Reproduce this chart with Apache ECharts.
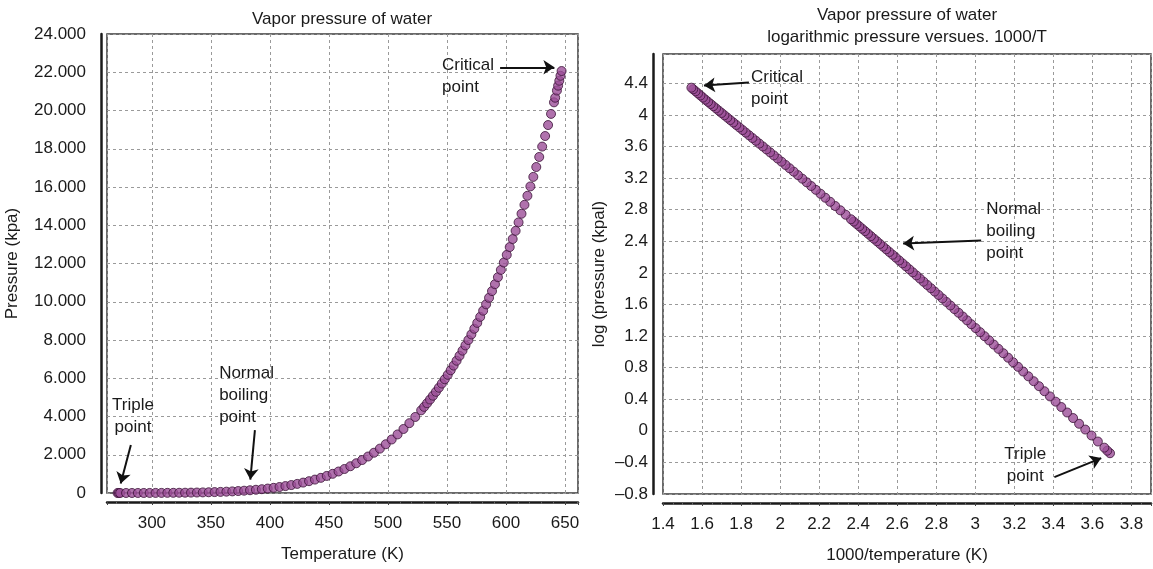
<!DOCTYPE html>
<html>
<head>
<meta charset="utf-8">
<script src="https://cdn.jsdelivr.net/npm/echarts@6.0.0/dist/echarts.min.js"></script>
<style>
html,body{margin:0;padding:0;background:#fff;}
#chart{width:1153px;height:569px;}
</style>
</head>
<body>
<div id="chart"></div>
<script>
// ---------------- DATA ----------------
// Left panel: [temperature K, pressure kPa]
const leftPoints = [
 [271.0,0.52],[272.0,0.56],[273.16,0.6117],[278.15,0.8725],[283.15,1.2282],[288.15,1.7057],
 [293.15,2.3392],[298.15,3.1698],[303.15,4.2467],[308.15,5.6291],[313.15,7.3851],[318.15,9.5953],
 [323.15,12.352],[328.15,15.763],[333.15,19.947],[338.15,25.043],[343.15,31.202],[348.15,38.597],
 [353.15,47.416],[358.15,57.868],[363.15,70.183],[368.15,84.609],[373.15,101.42],[378.15,120.90],
 [383.15,143.38],[388.15,169.18],[393.15,198.67],[398.15,232.23],[403.15,270.28],[408.15,313.22],
 [413.15,361.53],[418.15,415.68],[423.15,476.16],[428.15,543.49],[433.15,618.23],[438.15,700.93],
 [443.15,792.18],[448.15,892.60],[453.15,1002.8],[458.15,1123.5],[463.15,1255.2],[468.15,1398.8],
 [473.15,1554.9],[478.15,1724.3],[483.15,1907.7],[488.15,2105.9],[493.15,2319.6],[498.15,2549.7],
 [503.15,2797.1],[508.15,3062.5],[513.15,3347.0],[518.15,3651.2],[523.15,3976.2],[528.15,4322.9],
 [530.65,4504],[533.15,4692.3],[535.65,4886],[538.15,5085.3],[540.65,5291],[543.15,5503.0],
 [545.65,5722],[548.15,5946.4],[550.65,6178],[553.15,6416.6],[555.65,6662],[558.15,6914.6],
 [560.65,7175],[563.15,7441.8],[565.65,7716],[568.15,7999.0],[570.65,8290],[573.15,8587.9],
 [575.65,8894],[578.15,9209.4],[580.65,9533],[583.15,9865.1],[585.65,10207],[588.15,10556],
 [590.65,10916],[593.15,11284],[595.65,11664],[598.15,12051],[600.65,12451],[603.15,12858],
 [605.65,13279],[608.15,13707],[610.65,14150],[613.15,14601],[615.65,15067],[618.15,15541],
 [620.65,16031],[623.15,16529],[625.65,17045],[628.15,17570],[630.65,18113],[633.15,18666],
 [635.65,19239],[638.15,19822],[640.65,20427],[641.65,20668],[643.15,21044],[644.15,21298],
 [645.15,21554],[646.15,21814],[647.10,22064]
];
// Right panel: [1000/T, log10(P kPa)]
const rightPoints = [
 [3.690,-0.284],[3.676,-0.252],[3.6609,-0.2135],[3.6278,-0.1356],[3.5952,-0.0592],[3.5632,0.0161],
 [3.5317,0.0893],[3.5008,0.1614],[3.4704,0.2319],[3.4405,0.3010],[3.4112,0.3691],[3.3823,0.4356],
 [3.3540,0.5011],[3.3261,0.5650],[3.2987,0.6281],[3.2717,0.6897],[3.2452,0.7504],[3.2191,0.8097],
 [3.1934,0.8684],[3.1681,0.9255],[3.1432,0.9821],[3.1187,1.0372],[3.0945,1.0917],[3.0708,1.1449],
 [3.0474,1.1976],[3.0244,1.2490],[3.0017,1.2999],[2.9793,1.3496],[2.9573,1.3987],[2.9356,1.4467],
 [2.9142,1.4942],[2.8931,1.5406],[2.8723,1.5865],[2.8519,1.6314],[2.8317,1.6759],[2.8118,1.7194],
 [2.7921,1.7624],[2.7728,1.8045],[2.7537,1.8462],[2.7349,1.8870],[2.7163,1.9274],[2.6980,1.9669],
 [2.6799,2.0061],[2.6621,2.0445],[2.6445,2.0824],[2.6271,2.1197],[2.6099,2.1565],[2.5930,2.1926],
 [2.5763,2.2283],[2.5599,2.2634],[2.5436,2.2981],[2.5275,2.3322],[2.5116,2.3659],[2.4960,2.3990],
 [2.4805,2.4318],[2.4652,2.4640],[2.4501,2.4958],[2.4352,2.5272],[2.4204,2.5582],[2.4059,2.5887],
 [2.3915,2.6188],[2.3773,2.6485],[2.3632,2.6778],[2.3356,2.7352],[2.3087,2.7911],[2.2823,2.8457],
 [2.2566,2.8988],[2.2314,2.9506],[2.2068,3.0012],[2.1827,3.0506],[2.1591,3.0987],[2.1361,3.1458],
 [2.1135,3.1917],[2.0914,3.2366],[2.0697,3.2805],[2.0486,3.3234],[2.0278,3.3654],[2.0074,3.4065],
 [1.9875,3.4467],[1.9679,3.4861],[1.9487,3.5247],[1.9300,3.5625],[1.9115,3.5995],[1.8934,3.6358],
 [1.8757,3.6714],[1.8582,3.7063],[1.8411,3.7406],[1.8243,3.7742],[1.8078,3.8073],[1.7916,3.8398],
 [1.7757,3.8717],[1.7601,3.9030],[1.7447,3.9339],[1.7297,3.9642],[1.7148,3.9941],[1.7003,4.0235],
 [1.6859,4.0525],[1.6718,4.0810],[1.6580,4.1092],[1.6443,4.1370],[1.6309,4.1644],[1.6177,4.1915],
 [1.6047,4.2182],[1.5920,4.2448],[1.5794,4.2710],[1.5670,4.2972],[1.5548,4.3231],[1.5454,4.3437]
];
// Titles / axis names
const leftTitle = 'Vapor pressure of water';
const rightTitle = 'Vapor pressure of water\nlogarithmic pressure versues. 1000/T';
const leftXName = 'Temperature (K)';
const leftYName = 'Pressure (kpa)';
const rightXName = '1000/temperature (K)';
const rightYName = 'log (pressure (kpal)';
// Annotations: [text, x, y, align]  and arrows: [x1, y1, x2, y2]
const leftLabels = [
 ['Critical\npoint', 545.8, 21800, 'left'],
 ['Triple\npoint', 284, 4030, 'center'],
 ['Normal\nboiling\npoint', 357, 5124, 'left']
];
const leftArrows = [
 [595, 22260, 641, 22260],
 [282.2, 2510, 273.6, 500],
 [387.3, 3290, 383.4, 700]
];
const rightLabels = [
 ['Critical\npoint', 1.851, 4.337, 'left'],
 ['Normal\nboiling\npoint', 3.056, 2.53, 'left'],
 ['Triple\npoint', 3.256, -0.435, 'center']
];
const rightArrows = [
 [1.84, 4.41, 1.61, 4.37],
 [3.03, 2.41, 2.63, 2.37],
 [3.405, -0.587, 3.645, -0.345]
];

// ---------------- CHART ----------------
const FONT = '"Liberation Sans", Arial, Helvetica, sans-serif';
const TXT = '#1a1a1a';
const chart = echarts.init(document.getElementById('chart'), null, {renderer: 'canvas'});

function splitLine(){ return {show:true, lineStyle:{type:[3,3], color:'#9a9a9a', width:1}}; }
function markPts(labels){
  return {
    silent:true, symbol:'circle', symbolSize:0, animation:false,
    data: labels.map(l => ({
      coord:[l[1], l[2]], value: l[0],
      label:{show:true, formatter:l[0], position: l[3]==='left' ? 'right' : 'inside', distance:0,
        align: l[3], fontSize:17, lineHeight:22, color:TXT, fontFamily:FONT}
    }))
  };
}
function markArrows(arrows){
  return {
    silent:true, animation:false, symbol:['none','arrow'], symbolSize:11,
    label:{show:false},
    lineStyle:{color:'#111', width:2, type:'solid'},
    itemStyle:{color:'#111'},
    emphasis:{disabled:true},
    data: arrows.map(a => [{coord:[a[0],a[1]]},{coord:[a[2],a[3]]}])
  };
}
const markerStyle = {color:'#9c4f98', borderColor:'#3a1236', borderWidth:1};

const option = {
  animation:false,
  textStyle:{fontFamily:FONT},
  title:[
    {text:leftTitle, left:342, top:8, padding:0, textAlign:'center',
     textStyle:{fontSize:17, fontWeight:'normal', color:TXT, lineHeight:22, fontFamily:FONT}},
    {text:rightTitle, left:907, top:4, padding:0, textAlign:'center',
     textStyle:{fontSize:17, fontWeight:'normal', color:TXT, lineHeight:22, fontFamily:FONT}}
  ],
  grid:[
    {left:107, top:34, width:471, height:459, show:true, borderColor:'#3a3a3a', borderWidth:1.5, containLabel:false},
    {left:663, top:54, width:488, height:440, show:true, borderColor:'#3a3a3a', borderWidth:1.5, containLabel:false}
  ],
  xAxis:[
    {gridIndex:0, type:'value', min:262, max:661, splitNumber:8, offset:9,
     axisLine:{show:true, onZero:false, lineStyle:{color:'#1a1a1a', width:2.5}},
     axisTick:{show:true, length:3, lineStyle:{color:'#444'}},
     minorTick:{show:true, splitNumber:5, length:2, lineStyle:{color:'#666'}},
     axisLabel:{fontSize:17, color:TXT, margin:13, showMinLabel:false, showMaxLabel:false, fontFamily:FONT},
     splitLine:splitLine(),
     name:leftXName, nameLocation:'middle', nameGap:44,
     nameTextStyle:{fontSize:17, color:TXT, fontFamily:FONT}},
    {gridIndex:1, type:'value', min:1.4, max:3.9, interval:0.2, offset:9,
     axisLine:{show:true, onZero:false, lineStyle:{color:'#1a1a1a', width:2.5}},
     axisTick:{show:true, length:3, lineStyle:{color:'#444'}},
     minorTick:{show:true, splitNumber:4, length:2, lineStyle:{color:'#666'}},
     axisLabel:{fontSize:17, color:TXT, margin:13, showMaxLabel:false, fontFamily:FONT},
     splitLine:splitLine(),
     name:rightXName, nameLocation:'middle', nameGap:44,
     nameTextStyle:{fontSize:17, color:TXT, fontFamily:FONT}}
  ],
  yAxis:[
    {gridIndex:0, type:'value', min:0, max:24000, interval:2000, offset:6,
     axisLine:{show:true, onZero:false, lineStyle:{color:'#1a1a1a', width:2.5}},
     axisTick:{show:false},
     axisLabel:{fontSize:17, color:TXT, margin:15, fontFamily:FONT,
       formatter: v => v === 0 ? '0' : (v/1000).toFixed(3)},
     splitLine:splitLine(),
     name:leftYName, nameLocation:'middle', nameGap:80, nameRotate:90,
     nameTextStyle:{fontSize:17, color:TXT, fontFamily:FONT}},
    {gridIndex:1, type:'value', min:-0.8, max:4.77, interval:0.4, offset:10,
     axisLine:{show:true, onZero:false, lineStyle:{color:'#1a1a1a', width:2.5}},
     axisTick:{show:false},
     axisLabel:{fontSize:17, color:TXT, margin:5, showMaxLabel:false, fontFamily:FONT,
       formatter: v => { let r = Math.round(v*10)/10; if (Math.abs(r) < 1e-9) return '0'; return String(r).replace('-', '\u2013'); }},
     splitLine:splitLine(),
     name:rightYName, nameLocation:'middle', nameGap:45, nameRotate:90,
     nameTextStyle:{fontSize:17, color:TXT, fontFamily:FONT}}
  ],
  series:[
    {type:'scatter', xAxisIndex:0, yAxisIndex:0, data:leftPoints, symbolSize:9,
     itemStyle:markerStyle, silent:true,
     markPoint:markPts(leftLabels), markLine:markArrows(leftArrows)},
    {type:'scatter', xAxisIndex:1, yAxisIndex:1, data:rightPoints, symbolSize:9,
     itemStyle:markerStyle, silent:true,
     markPoint:markPts(rightLabels), markLine:markArrows(rightArrows)}
  ]
};
chart.setOption(option);
</script>
</body>
</html>
